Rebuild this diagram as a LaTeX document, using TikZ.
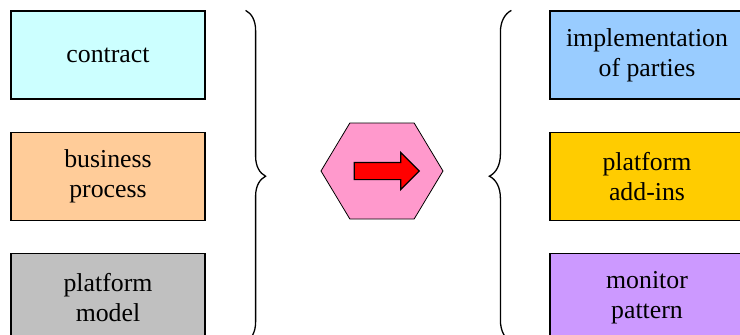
\documentclass[tikz,border=0pt]{standalone}
\usepackage{fontspec}
\setmainfont{Liberation Serif}
\usepackage{tikz}
\usetikzlibrary{positioning, shapes.symbols, shapes.arrows, decorations.pathreplacing}

\definecolor{contractcol}{HTML}{CCFFFF}
\definecolor{processcol}{HTML}{FFCC99}
\definecolor{modelcol}{HTML}{C0C0C0}
\definecolor{partiescol}{HTML}{99CCFF}
\definecolor{addinscol}{HTML}{FFCC00}
\definecolor{monitorcol}{HTML}{CC99FF}
\definecolor{hexcol}{HTML}{FF99CC}

\begin{document}
\begin{tikzpicture}[
    x=1pt, y=1pt,
    box/.style={draw=black, line width=1.2pt, rectangle, minimum width=194pt, minimum height=88pt, align=center, font=\fontsize{25.8}{30}\selectfont},
    brace/.style={draw=black, line width=1.3pt, decorate, decoration={brace, amplitude=20pt}},
    hexa/.style={draw=black, line width=0.8pt, fill=hexcol, shape=signal, signal to=east and west, signal pointer angle=118, minimum width=122pt, minimum height=96pt, inner sep=0pt},
    bigarrow/.style={draw=black, line width=1.2pt, fill=red, single arrow, single arrow head extend=10pt, minimum height=65pt, minimum width=36pt, inner xsep=0pt, inner ysep=8pt}
]
\useasboundingbox (0,0) rectangle (740,-335);

% Eingaben
\node[box, fill=contractcol] (contract) at (108,-55) {contract};
\node[box, fill=processcol, below=32pt of contract] (process) {business\\process};
\node[box, fill=modelcol, below=32pt of process] (model) {platform\\model};

% Transformation
\node[hexa] (trafo) at (382,-171) {};
\node[bigarrow] (pfeil) at (382.5,-171) {};

% Ausgaben
\node[box, fill=partiescol] (parties) at (647,-55) {implementation\\of parties};
\node[box, fill=addinscol, below=32pt of parties] (addins) {platform\\add-ins};
\node[box, fill=monitorcol, below=32pt of addins] (monitor) {monitor\\pattern};

% Klammern
\coordinate (lbtop) at ([xshift=40pt]contract.north east);
\coordinate (lbbot) at ([xshift=40pt]model.south east);
\coordinate (rbtop) at ([xshift=-38pt]parties.north west);
\coordinate (rbbot) at ([xshift=-38pt]monitor.south west);
\draw[brace] (lbtop) -- (lbbot);
\draw[brace, decoration={amplitude=22pt}] (rbbot) -- (rbtop);

\end{tikzpicture}
\end{document}
